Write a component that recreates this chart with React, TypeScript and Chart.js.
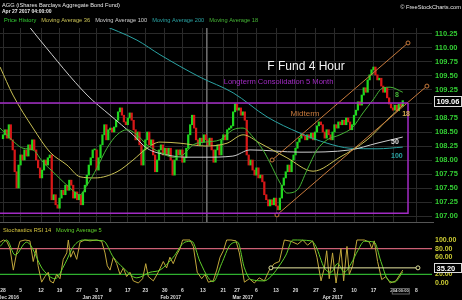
import React, { useEffect, useRef } from 'react';
import { Chart, registerables } from 'chart.js';

Chart.register(...registerables);

// ---------------- data ----------------
const firstOpen = 108.38;
const closes = [
  108.45, 108.54, 108.39, 108.63, 108.36, 108.18, 107.79, 107.5, 107.91, 108.09,
  108.0, 108.18, 108.07, 108.27, 108.18, 108.36, 108.18, 108.0, 107.86, 107.68,
  107.82, 108.0, 107.91, 108.04, 108.09, 107.29, 107.38, 107.2, 107.14, 107.32,
  107.46, 107.38, 107.55, 107.46, 107.64, 107.55, 107.32, 107.43, 107.29, 107.38,
  107.2, 107.43, 107.55, 107.73, 107.91, 108.04, 108.18, 108.18, 107.82, 108.04,
  108.27, 108.45, 108.63, 108.36, 108.54, 108.57, 108.5, 108.59, 108.71, 108.86,
  108.93, 108.8, 108.68, 108.63, 108.75, 108.84, 108.71, 108.54, 108.36, 108.5,
  108.27, 107.91, 108.18, 108.36, 108.5, 108.27, 108.36, 108.09, 107.79, 108.0,
  108.18, 108.27, 108.09, 108.21, 108.09, 108.21, 108.0, 107.73, 108.0, 108.18,
  108.09, 108.18, 107.96, 108.04, 108.21, 108.45, 108.63, 108.8, 108.57, 108.36,
  108.27, 108.39, 108.32, 108.45, 108.36, 108.27, 108.39, 108.18, 107.96, 108.18,
  108.27, 108.09, 108.36, 108.45, 108.36, 108.54, 108.57, 108.61, 108.86, 109.0,
  108.89, 108.93, 108.8, 108.86, 108.71, 108.09, 107.91, 108.0, 107.82, 107.73,
  107.86, 107.68, 107.73, 107.61, 107.38, 107.29, 107.18, 107.29, 107.2, 107.32,
  107.18, 107.11, 107.32, 107.55, 107.68, 107.79, 107.91, 107.79, 108.0, 108.09,
  108.21, 108.32, 108.39, 108.46, 108.43, 108.36, 108.45, 108.39, 108.48, 108.36,
  108.5, 108.61, 108.68, 108.63, 108.5, 108.39, 108.54, 108.45, 108.36, 108.5,
  108.63, 108.57, 108.68, 108.63, 108.71, 108.63, 108.75, 108.68, 108.54, 108.63,
  108.8, 108.89, 109.04, 108.98, 109.16, 109.29, 109.21, 109.43, 109.52, 109.61,
  109.66, 109.52, 109.43, 109.46, 109.32, 109.21, 109.29, 109.11, 109.0, 108.93,
  108.89, 108.98, 108.88, 109.0, 108.96, 109.06,
];
const lastPrice = 109.06;

// moving averages, read as [bar index, price]
const ma18Pts = [
  [-1.5, 108.57], [3.6, 108.39], [10.3, 108.21], [15.4, 108.18], [20.5, 107.96], [25.6, 107.79],
  [32.8, 107.55], [39.5, 107.38], [43.1, 107.55], [48.2, 107.86], [53.3, 108.21], [58.5, 108.45],
  [63.6, 108.54], [68.7, 108.45], [73.8, 108.27], [80.5, 108.14], [87.2, 108.05], [92.3, 108.09],
  [97.4, 108.27], [103.6, 108.32], [111.3, 108.36], [117.9, 108.54], [123.1, 108.57], [128.2, 108.41],
  [133.3, 108.18], [136.9, 107.95], [142.1, 107.59], [145.6, 107.41], [150.8, 107.46], [155.9, 107.82],
  [161, 108.18], [166.2, 108.36], [172.8, 108.45], [179.5, 108.59], [184.6, 108.84], [189.7, 109.07],
  [194.9, 109.29], [198.5, 109.3], [205, 109.21],
];
const ma36Pts = [
  [-1.5, 109.66], [5.1, 109.16], [15.4, 108.57], [24.1, 108.14], [32.8, 107.91], [39.5, 107.7],
  [47.2, 107.68], [58.5, 107.79], [66.7, 108.0], [73.8, 108.21], [80.5, 108.32], [90.8, 108.3],
  [103.6, 108.25], [114.9, 108.3], [123.1, 108.45], [131.8, 108.3], [145.6, 108.04], [159, 107.8],
  [172.8, 108.05], [186.7, 108.36], [196.9, 108.71], [205, 108.98],
];
const ma100Pts = [
  [12.8, 110.41], [19, 110.14], [43.1, 109.16], [54.9, 108.8], [66.7, 108.45], [73.8, 108.21],
  [84.1, 108.09], [94.4, 108.05], [103.6, 108.05], [117.9, 108.07], [126.7, 108.18], [152.3, 108.14],
  [178, 108.18], [191.8, 108.3], [205, 108.41],
];
const ma200Pts = [
  [49.7, 110.43], [68.7, 110.14], [80.5, 109.88], [101, 109.48], [118, 109.2], [135.4, 108.77],
  [152.3, 108.48], [166.2, 108.3], [178, 108.21], [191.8, 108.2], [205, 108.23],
];

// drawn trend lines
const channelUpper = [[138, 108.0], [207.7, 110.09]];
const channelLower = [[140.5, 107.02], [217.4, 109.32]];
const consolidationTop = 109.02;
const consolidationBottom = 107.05;
const consolidationEnd = 207.7;
const markerIdx = 104.5;

// axes
const xMin = -1.54;
const xMax = 220;
const priceMin = 106.893;
const priceMax = 110.357;
const priceTicks = [107, 107.25, 107.5, 107.75, 108, 108.25, 108.5, 108.75, 109, 109.25, 109.5, 109.75, 110, 110.25];
const tickIdx = [0, 9, 19.5, 29, 39, 48, 55, 64, 73, 83, 92, 102.5, 113, 120, 130, 140, 150, 160.5, 170, 180, 190, 200, 212];
const tickLabels = ['28', '5', '12', '19', '27', '3', '9', '17', '23', '30', '6', '13', '21', '27', '6', '13', '20', '27', '3', '10', '17', '24', '8'];
const monthIdx = [2.8, 46, 86, 123, 169];
const monthLabels = ['Dec 2016', 'Jan 2017', 'Feb 2017', 'Mar 2017', 'Apr 2017'];

// stochastics panel
const stochMin = -9.3;
const stochMax = 109.3;
const stochTicks = [0, 20, 40, 60, 80, 100];
const overbought = 80;
const oversold = 20;
const stochMark = 35.2;
const stochMarkRange = [137.4, 212.8];
const stochRsi = [
  [-1.5, 95], [0.2, 100], [1.9, 97], [3.6, 80], [5.3, 30], [7, 70], [8.7, 97], [11.3, 100], [13.8, 98],
  [15.5, 50], [17, 80], [18, 40], [19.8, 2], [21.5, 15], [23.2, 25], [24.1, 5], [25.8, 0], [27.5, 20],
  [29.2, 10], [30.9, 55], [32.7, 70], [33.5, 100], [34.7, 60], [36.1, 75], [37.8, 55], [39.5, 95],
  [42, 100], [44.6, 98], [48, 100], [50.6, 97], [52.3, 70], [53.5, 40], [54.9, 30], [56.6, 60],
  [58.3, 45], [60, 20], [61.7, 35], [63.4, 15], [65.1, 25], [66.8, 5], [69.4, 0], [71.6, 10],
  [73.2, 45], [74.5, 15], [77.1, 5], [79.6, 25], [82.2, 50], [83.9, 35], [85.6, 60], [87.3, 45],
  [89, 65], [90.8, 80], [92.1, 100], [95.9, 100], [97.6, 85], [99.6, 25], [101.9, 10], [103.6, 20],
  [105.3, 2], [107.8, 5], [109.6, 30], [111.3, 60], [113, 75], [114.7, 100], [116.9, 100], [119.5, 98],
  [121.2, 70], [123.8, 2], [126.3, 10], [128.9, 0], [131.4, 12], [134, 5], [136.6, 30], [139.1, 45],
  [141.7, 50], [144.3, 100], [147.7, 97], [151.1, 90], [153.7, 100], [156.2, 88], [158.8, 98],
  [161, 60], [163.1, 5], [164.8, 35], [166, 75], [167.3, 10], [169, 70], [170.8, 0], [173.3, 80],
  [174.7, 5], [176.4, 85], [177.6, 20], [179.3, 40], [181.5, 100], [185.3, 100], [187.9, 95],
  [189.1, 80], [190.4, 98], [192.1, 50], [194.2, 8], [196.4, 15], [198.6, 0], [201.5, 5], [205, 30],
];
const stochMa5 = [
  [-1.5, 85], [1.9, 100], [6.2, 65], [12.1, 95], [20.7, 30], [26.7, 10], [31.8, 45], [36.1, 85],
  [41.2, 100], [51.4, 98], [56.6, 60], [61.7, 35], [68.6, 12], [75.4, 25], [80.5, 30], [87.3, 60],
  [93.3, 95], [96.8, 97], [101, 50], [105.3, 12], [107.8, 3], [112.1, 45], [116.4, 88], [120.3, 95],
  [123.8, 35], [127.2, 8], [134, 5], [137.4, 15], [140.9, 35], [145.1, 65], [148.6, 100], [158, 98],
  [160.5, 85], [164.8, 35], [168.2, 25], [171.6, 45], [175, 25], [178.5, 45], [181.9, 75], [185.3, 97],
  [190.4, 95], [193.8, 50], [197.3, 8], [200.7, 2], [205, 25],
];

// ---------------- styling ----------------
const FONT = '"Liberation Sans", Arial, sans-serif';
const C = {
  up: '#1fd81f',
  down: '#d81818',
  grid: '#2a2a2a',
  ma18: '#45b535',
  ma36: '#c9c155',
  ma100: '#cfcfcf',
  ma200: '#2aa3a3',
  magenta: '#a22bc4',
  orange: '#c87a3c',
  priceAxis: '#33cc33',
  stochAxis: '#cccc33',
  stoch: '#c2a83c',
  stochMa: '#5fcf2a',
  ob: '#cc6075',
  os: '#2fb02f',
};

const pts = (a: number[][]) => a.map(([x, y]) => ({ x, y }));

function lineDs(data: number[][], color: string, order: number, extra: any = {}) {
  return {
    type: 'line',
    data: pts(data),
    borderColor: color,
    backgroundColor: color,
    borderWidth: 1,
    pointRadius: 0,
    fill: false,
    tension: 0,
    order,
    ...extra,
  };
}

function txt(ctx: CanvasRenderingContext2D, s: string, x: number, y: number, color: string, font: string, align: CanvasTextAlign = 'left') {
  ctx.fillStyle = color;
  ctx.font = font;
  ctx.textAlign = align;
  ctx.textBaseline = 'middle';
  ctx.fillText(s, x, y);
}

function legendRow(ctx: CanvasRenderingContext2D, items: [string, string][], x0: number, y: number, font: string, gap: number) {
  let x = x0;
  ctx.font = font;
  items.forEach(([s, col]) => {
    txt(ctx, s, x, y, col, font);
    x += ctx.measureText(s).width + gap;
  });
}

const mainDecor = {
  id: 'mainDecor',
  afterDraw(chart: any) {
    const { ctx, chartArea, scales } = chart;
    const xs = scales.x;
    const ys = scales.y;
    ctx.save();
    // header
    txt(ctx, 'AGG (iShares Barclays Aggregate Bond Fund)', 2, 5, '#e8e8e8', `5.7px ${FONT}`);
    txt(ctx, 'Apr 27 2017 04:00:00', 2, 12, '#e8e8e8', `bold 5px ${FONT}`);
    txt(ctx, '\u00a9 FreeStockCharts.com', 461, 7, '#e8e8e8', `5.7px ${FONT}`, 'right');
    legendRow(ctx, [
      ['Price History', C.priceAxis],
      ['Moving Average 36', C.ma36],
      ['Moving Average 100', C.ma100],
      ['Moving Average 200', C.ma200],
      ['Moving Average 18', C.ma18],
    ], 4, 20, `5.7px ${FONT}`, 5);

    // annotations
    const px = (i: number) => xs.getPixelForValue(i);
    const py = (v: number) => ys.getPixelForValue(v);
    txt(ctx, 'F Fund 4 Hour', px(155.4), py(109.66), '#f2f2f2', `12px ${FONT}`, 'center');
    txt(ctx, 'Longterm Consolidation 5 Month', px(141.3), py(109.39), C.magenta, `7.6px ${FONT}`, 'center');
    txt(ctx, 'Midterm', px(154.9), py(108.82), C.orange, `8px ${FONT}`, 'center');
    txt(ctx, '8', px(202), py(109.16), C.ma18, `bold 7px ${FONT}`, 'center');
    txt(ctx, '18', px(206.7), py(108.82), '#d8b050', `bold 7px ${FONT}`, 'center');
    txt(ctx, '50', px(201), py(108.32), '#e0e0e0', `bold 7px ${FONT}`, 'center');
    txt(ctx, '100', px(202), py(108.07), C.ma200, `bold 7px ${FONT}`, 'center');

    // divider under the price panel
    ctx.strokeStyle = '#555';
    ctx.lineWidth = 1;
    ctx.beginPath();
    ctx.moveTo(0, chartArea.bottom + 0.5);
    ctx.lineTo(chartArea.right + 2, chartArea.bottom + 0.5);
    ctx.stroke();

    // last price box
    const yy = Math.round(py(lastPrice));
    const bx = chartArea.right + 2;
    ctx.fillStyle = '#000';
    ctx.fillRect(bx, yy - 5, 28, 11);
    ctx.strokeStyle = '#dcdcdc';
    ctx.strokeRect(bx + 0.5, yy - 4.5, 27, 10);
    txt(ctx, lastPrice.toFixed(2), bx + 2.5, yy + 0.5, '#ffffff', `bold 7.5px ${FONT}`);
    ctx.restore();
  },
};

const lowerDecor = {
  id: 'lowerDecor',
  afterDraw(chart: any) {
    const { ctx, chartArea, scales } = chart;
    const xs = scales.x;
    const ys = scales.y;
    ctx.save();
    legendRow(ctx, [
      ['Stochastics RSI 14', '#d8c840'],
      ['Moving Average 5', C.stochMa],
    ], 3, 6, `5.7px ${FONT}`, 5);
    // month row
    monthLabels.forEach((m, k) => {
      txt(ctx, m, xs.getPixelForValue(monthIdx[k]), chartArea.bottom + 10.5, '#dddddd', `bold 4.8px ${FONT}`, 'center');
    });
    // time readout box
    const tx = xs.getPixelForValue(closes.length - 2);
    ctx.fillStyle = '#000';
    ctx.fillRect(tx - 9, chartArea.bottom + 1, 18, 6.5);
    ctx.strokeStyle = '#666';
    ctx.lineWidth = 1;
    ctx.strokeRect(tx - 8.5, chartArea.bottom + 1.5, 17, 5.5);
    txt(ctx, '04:00:00', tx, chartArea.bottom + 4.3, '#dddddd', `bold 4px ${FONT}`, 'center');
    // value box
    const yy = Math.round(ys.getPixelForValue(stochMark));
    const bx = chartArea.right + 2;
    ctx.fillStyle = '#000';
    ctx.fillRect(bx, yy - 5, 28, 10);
    ctx.strokeStyle = '#dcdcdc';
    ctx.strokeRect(bx + 0.5, yy - 4.5, 27, 9);
    txt(ctx, stochMark.toFixed(2), bx + 2.5, yy + 0.5, '#ffffff', `bold 7.5px ${FONT}`);
    ctx.restore();
  },
};

const noPad = (s: any) => {
  s.paddingTop = 0;
  s.paddingBottom = 0;
  s.paddingLeft = 0;
  s.paddingRight = 0;
};

function mainConfig(): any {
  const opens = closes.map((c, i) => (i === 0 ? firstOpen : closes[i - 1]));
  const candles = closes.map((c, i) => ({ x: i, y: [opens[i], c] }));
  const colors = closes.map((c, i) => (c >= opens[i] ? C.up : C.down));
  const marker = { pointRadius: 2, pointStyle: 'circle', pointBorderColor: C.orange, pointBackgroundColor: '#000', pointBorderWidth: 1 };
  return {
    type: 'bar',
    data: {
      datasets: [
        lineDs([[consolidationEnd, consolidationTop], [-3, consolidationTop]], C.magenta, 1, { borderWidth: 1.5 }),
        lineDs([[consolidationEnd, consolidationTop], [consolidationEnd, consolidationBottom], [-3, consolidationBottom]], C.magenta, 1, { borderWidth: 1.5 }),
        lineDs(channelUpper, C.orange, 2, marker),
        lineDs(channelLower, C.orange, 2, marker),
        lineDs(ma18Pts, C.ma18, 3, { cubicInterpolationMode: 'monotone' }),
        lineDs(ma36Pts, C.ma36, 4, { cubicInterpolationMode: 'monotone' }),
        lineDs(ma100Pts, C.ma100, 5, { cubicInterpolationMode: 'monotone' }),
        lineDs(ma200Pts, C.ma200, 6, { cubicInterpolationMode: 'monotone' }),
        {
          type: 'bar',
          data: candles,
          backgroundColor: colors,
          barThickness: 1.6,
          minBarLength: 1,
          grouped: false,
          order: 8,
        },
        lineDs([[markerIdx, priceMax], [markerIdx, priceMin]], '#6e6e6e', 9),
      ],
    },
    options: {
      responsive: false,
      animation: false,
      devicePixelRatio: 1,
      layout: { padding: { top: 28, bottom: 2, left: 0, right: 0 }, autoPadding: false },
      plugins: { legend: { display: false }, tooltip: { enabled: false } },
      events: [],
      scales: {
        x: {
          type: 'linear',
          min: xMin,
          max: xMax,
          offset: false,
          grid: { color: C.grid, drawTicks: false, offset: false, lineWidth: 1 },
          border: { display: false },
          ticks: { display: false },
          afterBuildTicks: (s: any) => { s.ticks = tickIdx.map((v) => ({ value: v })); },
          afterFit: (s: any) => { s.height = 0; noPad(s); },
        },
        y: {
          type: 'linear',
          position: 'right',
          min: priceMin,
          max: priceMax,
          beginAtZero: false,
          grid: { color: C.grid, drawTicks: false },
          border: { display: false },
          afterBuildTicks: (s: any) => { s.ticks = priceTicks.map((v) => ({ value: v })); },
          afterFit: (s: any) => { s.width = 30; noPad(s); },
          ticks: {
            autoSkip: false,
            color: C.priceAxis,
            padding: 3,
            font: { family: FONT, size: 7.5, weight: 'bold' },
            callback: (v: number) => (Math.abs(v - lastPrice) < 0.1 ? '' : Number(v).toFixed(2)),
          },
        },
      },
    },
    plugins: [mainDecor],
  };
}

function lowerConfig(): any {
  const markerY = { pointRadius: 2, pointStyle: 'circle', pointBorderColor: '#e6e6a0', pointBackgroundColor: '#000', pointBorderWidth: 1 };
  return {
    type: 'line',
    data: {
      datasets: [
        lineDs([[stochMarkRange[0], stochMark], [stochMarkRange[1], stochMark]], '#e6e6a0', 1, markerY),
        lineDs(stochMa5, C.stochMa, 2, { cubicInterpolationMode: 'monotone' }),
        lineDs(stochRsi, C.stoch, 3),
        lineDs([[xMin, overbought], [xMax, overbought]], C.ob, 4, { borderWidth: 1.2 }),
        lineDs([[xMin, oversold], [xMax, oversold]], C.os, 4, { borderWidth: 1.2 }),
      ],
    },
    options: {
      responsive: false,
      animation: false,
      devicePixelRatio: 1,
      layout: { padding: { top: 12, bottom: 0, left: 0, right: 0 }, autoPadding: false },
      plugins: { legend: { display: false }, tooltip: { enabled: false } },
      events: [],
      scales: {
        x: {
          type: 'linear',
          min: xMin,
          max: xMax,
          offset: false,
          grid: { display: false, drawTicks: false },
          border: { display: false },
          afterBuildTicks: (s: any) => { s.ticks = tickIdx.map((v) => ({ value: v })); },
          afterFit: (s: any) => { s.height = 13; noPad(s); },
          ticks: {
            autoSkip: false,
            maxRotation: 0,
            padding: 1,
            color: '#dddddd',
            font: { family: FONT, size: 5, weight: 'bold' },
            callback: (v: number, i: number) => tickLabels[i],
          },
        },
        y: {
          type: 'linear',
          position: 'right',
          min: stochMin,
          max: stochMax,
          grid: { display: false, drawTicks: false },
          border: { display: false },
          afterBuildTicks: (s: any) => { s.ticks = stochTicks.map((v) => ({ value: v })); },
          afterFit: (s: any) => { s.width = 30; noPad(s); },
          ticks: {
            autoSkip: false,
            color: C.stochAxis,
            padding: 3,
            font: { family: FONT, size: 7, weight: 'bold', lineHeight: 1 },
            callback: (v: number) => (Math.abs(v - stochMark) < 8 ? '' : Number(v).toFixed(2)),
          },
        },
      },
    },
    plugins: [lowerDecor],
  };
}

export default function App() {
  const mainRef = useRef<HTMLCanvasElement>(null);
  const lowRef = useRef<HTMLCanvasElement>(null);
  useEffect(() => {
    const a = new Chart(mainRef.current as HTMLCanvasElement, mainConfig());
    const b = new Chart(lowRef.current as HTMLCanvasElement, lowerConfig());
    return () => {
      a.destroy();
      b.destroy();
    };
  }, []);
  return (
    <div style={{ position: 'absolute', left: 0, top: 0, width: 462, height: 300, background: '#000', overflow: 'hidden' }}>
      <canvas ref={mainRef} width={462} height={224} style={{ position: 'absolute', left: 0, top: 0, width: 462, height: 224 }} />
      <canvas ref={lowRef} width={462} height={76} style={{ position: 'absolute', left: 0, top: 224, width: 462, height: 76 }} />
    </div>
  );
}
